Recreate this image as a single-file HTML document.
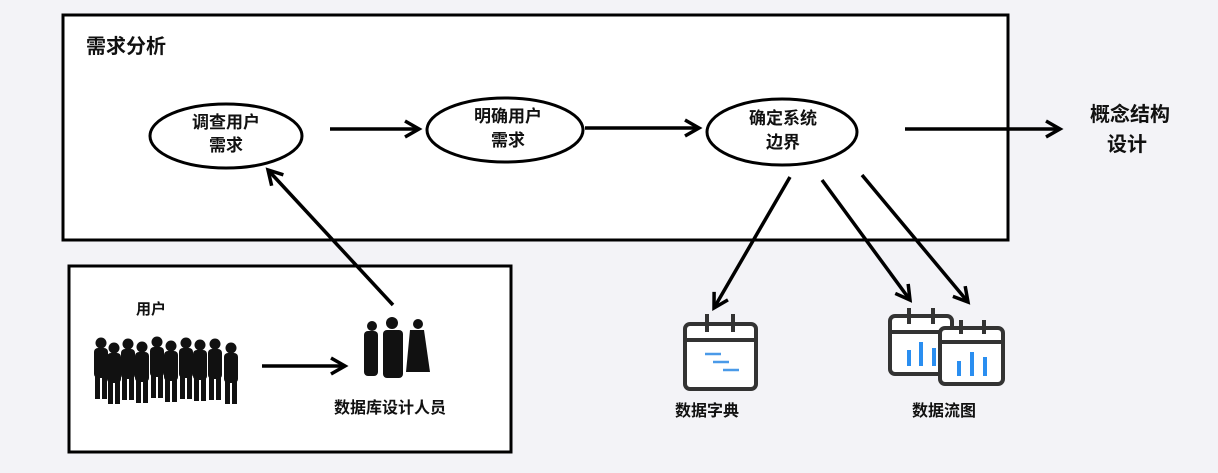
<!DOCTYPE html>
<html><head><meta charset="utf-8"><style>
body{margin:0;background:#f3f3f7;}
svg{display:block;}
text{font-family:"Liberation Sans","Noto Sans CJK SC",sans-serif;font-weight:bold;fill:#111;}
</style></head><body>
<svg width="1218" height="473" viewBox="0 0 1218 473">
<defs>
<marker id="ah2" markerWidth="20" markerHeight="20" refX="16" refY="10" orient="auto" markerUnits="userSpaceOnUse">
<path d="M2,2 L16,10 L2,18" fill="none" stroke="#000" stroke-width="3.5"/>
</marker>
<g id="p"><circle cx="0" cy="0" r="5.5"/><rect x="-7" y="5" width="14" height="30" rx="4"/><rect x="-6" y="32" width="5" height="24"/><rect x="1" y="32" width="5" height="24"/></g>
</defs>
<rect x="0" y="0" width="1218" height="473" fill="#f3f3f7"/>
<rect x="63" y="15" width="945" height="225" fill="#fff" stroke="#000" stroke-width="3"/>
<text x="86" y="53" font-size="20">需求分析</text>
<rect x="69" y="266" width="442" height="186" fill="#fff" stroke="#000" stroke-width="3"/>

<ellipse cx="226" cy="136" rx="76" ry="32" fill="#fff" stroke="#000" stroke-width="3"/>
<text x="226" y="128" font-size="17" text-anchor="middle">调查用户</text>
<text x="226" y="151" font-size="17" text-anchor="middle">需求</text>
<ellipse cx="505" cy="130" rx="78" ry="32" fill="#fff" stroke="#000" stroke-width="3"/>
<text x="508" y="122" font-size="17" text-anchor="middle">明确用户</text>
<text x="508" y="146" font-size="17" text-anchor="middle">需求</text>
<ellipse cx="782" cy="132" rx="75" ry="33" fill="#fff" stroke="#000" stroke-width="3"/>
<text x="783" y="124" font-size="17" text-anchor="middle">确定系统</text>
<text x="783" y="148" font-size="17" text-anchor="middle">边界</text>

<g stroke="#000" stroke-width="3.5" fill="none" marker-end="url(#ah2)">
<line x1="330" y1="129" x2="419" y2="129"/>
<line x1="585" y1="128" x2="699" y2="128"/>
<line x1="905" y1="129" x2="1060" y2="129"/>
<line x1="393" y1="305" x2="268" y2="170"/>
<line x1="790" y1="177" x2="714" y2="308"/>
<line x1="822" y1="180" x2="910" y2="300"/>
<line x1="862" y1="175" x2="968" y2="302"/>
<line x1="262" y1="366" x2="345" y2="366"/>
</g>
<text x="1090" y="121" font-size="20">概念结构</text>
<text x="1107" y="151" font-size="20">设计</text>

<text x="136" y="314" font-size="15">用户</text>
<g fill="#111">
<use href="#p" x="101" y="343"/><use href="#p" x="114" y="348"/><use href="#p" x="128" y="344"/><use href="#p" x="142" y="347"/><use href="#p" x="157" y="342"/><use href="#p" x="171" y="346"/><use href="#p" x="186" y="343"/><use href="#p" x="200" y="345"/><use href="#p" x="215" y="344"/><use href="#p" x="231" y="348"/>
</g>
<text x="390" y="413" font-size="16" text-anchor="middle">数据库设计人员</text>
<g fill="#111">
<circle cx="372" cy="326" r="5"/><rect x="364" y="331" width="14" height="45" rx="4"/>
<circle cx="392" cy="323" r="6"/><rect x="383" y="330" width="20" height="48" rx="4"/>
<circle cx="418" cy="324" r="5"/><path d="M410,330 h14 l6,42 h-24z"/>
</g>

<g stroke="#333" stroke-width="4" fill="#fff">
<rect x="685" y="324" width="71" height="65" rx="5"/>
<line x1="685" y1="340" x2="756" y2="340"/>
<line x1="707" y1="314" x2="707" y2="332"/><line x1="733" y1="314" x2="733" y2="332"/>
</g>
<g stroke="#4a9ae8" stroke-width="2.5">
<line x1="705" y1="354" x2="721" y2="354"/><line x1="713" y1="362" x2="729" y2="362"/><line x1="723" y1="370" x2="739" y2="370"/>
</g>
<text x="707" y="416" font-size="16" text-anchor="middle">数据字典</text>
<g stroke="#333" stroke-width="4" fill="#fff">
<rect x="890" y="316" width="62" height="58" rx="5"/>
<line x1="890" y1="332" x2="952" y2="332"/>
<line x1="909" y1="308" x2="909" y2="324"/><line x1="933" y1="308" x2="933" y2="324"/>
</g>
<g stroke="#2a8ef0" stroke-width="4">
<line x1="909" y1="350" x2="909" y2="366"/><line x1="921" y1="342" x2="921" y2="366"/><line x1="934" y1="348" x2="934" y2="366"/>
</g>
<g stroke="#333" stroke-width="4" fill="#fff">
<rect x="940" y="328" width="63" height="56" rx="5"/>
<line x1="940" y1="342" x2="1003" y2="342"/>
<line x1="961" y1="320" x2="961" y2="334"/><line x1="984" y1="320" x2="984" y2="334"/>
</g>
<g stroke="#2a8ef0" stroke-width="4">
<line x1="959" y1="361" x2="959" y2="376"/><line x1="972" y1="352" x2="972" y2="376"/><line x1="985" y1="357" x2="985" y2="376"/>
</g>
<text x="944" y="416" font-size="16" text-anchor="middle">数据流图</text>
</svg>
</body></html>
